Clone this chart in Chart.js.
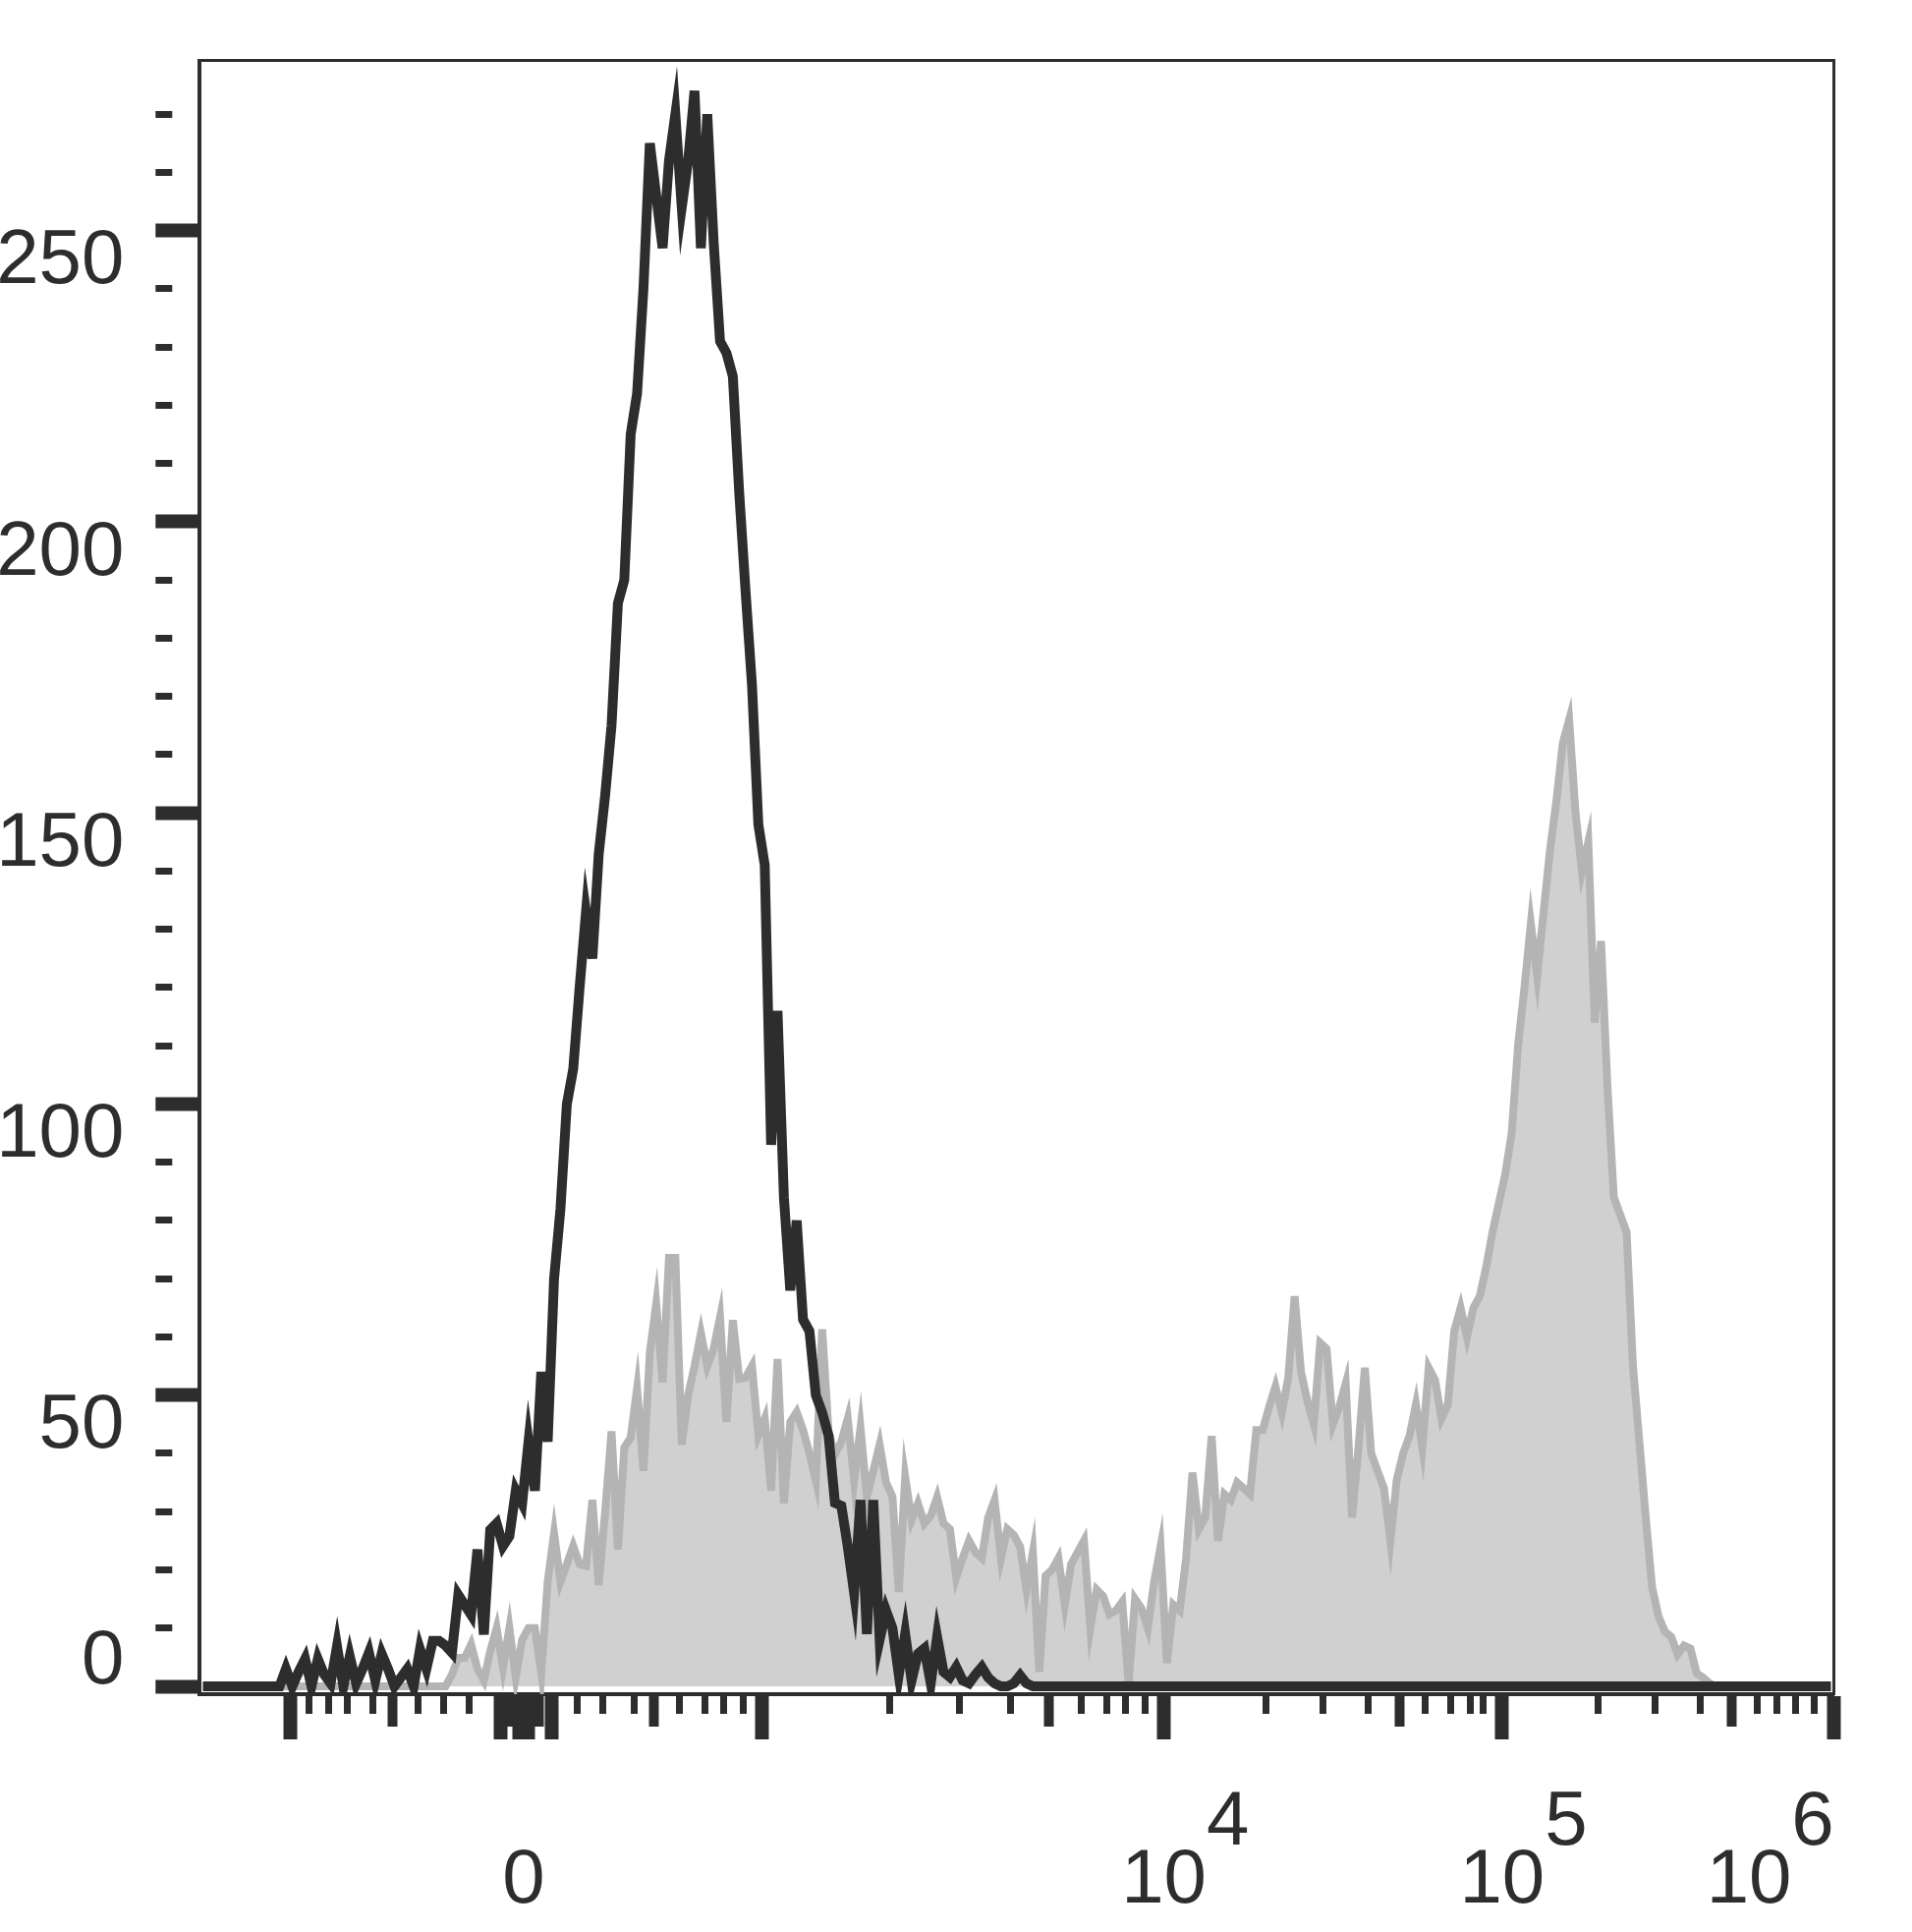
<!DOCTYPE html>
<html>
<head>
<meta charset="utf-8">
<script src="https://cdn.jsdelivr.net/npm/chart.js@4.4.1/dist/chart.umd.min.js"></script>
<style>
    html, body { margin: 0; padding: 0; background: #ffffff; }
    #wrap { width: 1946px; height: 1966px; }
</style>
</head>
<body>
<div id="wrap"><canvas id="histChart" width="1946" height="1966"></canvas></div>
<script>
// display channels 0..1024, 256 bins of 4 channels
const channelMax = 1024;
const binWidth = 4;

// unstained / isotype (black outline)
const controlCounts = [
    0, 0, 0, 0, 0, 0, 0, 0, 0, 0, 0, 0, 0, 3, 0, 2.5,
    4.7, 0, 4.7, 2, 0.5, 6.9, 0, 5.2, 0.5, 3, 5.8, 1, 5.6, 3, 0, 1.5,
    3, 0, 6.4, 3, 7.8, 7.8, 7, 5.8, 15.7, 14, 12.3, 23.5, 8.9, 26.9, 28, 24.1,
    25.8, 33.6, 31.4, 42, 33.6, 54, 42, 70, 82, 100, 106, 120, 133, 125, 143, 153,
    165, 186, 190, 215, 222, 240, 265, 256, 247, 262, 270, 254, 262, 274, 247, 270,
    248, 231, 229, 225, 205, 188, 172, 148, 141, 93, 116, 84, 68, 80, 63, 61,
    50, 47, 43, 31.5, 31, 24, 16, 32, 9, 32, 8, 13, 10, 2, 9, 1,
    5.6, 6.5, 0.5, 8.5, 2.5, 1.6, 3.3, 1, 0.5, 2, 3.3, 1.5, 0.5, 0, 0, 0.5,
    1.9, 0.5, 0, 0, 0, 0, 0, 0, 0, 0, 0, 0, 0, 0, 0, 0,
    0, 0, 0, 0, 0, 0, 0, 0, 0, 0, 0, 0, 0, 0, 0, 0,
    0, 0, 0, 0, 0, 0, 0, 0, 0, 0, 0, 0, 0, 0, 0, 0,
    0, 0, 0, 0, 0, 0, 0, 0, 0, 0, 0, 0, 0, 0, 0, 0,
    0, 0, 0, 0, 0, 0, 0, 0, 0, 0, 0, 0, 0, 0, 0, 0,
    0, 0, 0, 0, 0, 0, 0, 0, 0, 0, 0, 0, 0, 0, 0, 0,
    0, 0, 0, 0, 0, 0, 0, 0, 0, 0, 0, 0, 0, 0, 0, 0,
    0, 0, 0, 0, 0, 0, 0, 0, 0, 0, 0, 0, 0, 0, 0, 0
];

// stained sample (grey filled)
const stainedCounts = [
    0, 0, 0, 0, 0, 0, 0, 0, 0, 0, 0, 0, 0, 0, 0, 0,
    0, 0, 0, 0, 0, 0, 0, 0, 0, 0, 0, 0, 0, 0, 0, 0,
    0, 0, 0, 0, 0, 0, 0, 2, 4.9, 4.9, 7.2, 3, 1, 6, 10, 3.3,
    10, 1.6, 8, 10, 10, 2.2, 18, 26.3, 18, 21, 24.1, 21, 20.7, 32, 17.4, 30,
    43.8, 23.5, 41, 42.7, 51.1, 37, 57.3, 65.7, 52.2, 73.6, 73.6, 41.5, 50, 55, 60.6, 55,
    58, 63.4, 45.4, 62.9, 52.8, 53, 55, 43.2, 46, 33.6, 56.2, 31.4, 45.4, 47.1, 44, 40,
    35.3, 61.3, 43.8, 39.8, 42, 46, 35.3, 44.4, 32.6, 37, 41.5, 35, 32.6, 16.2, 36, 28.6,
    31.4, 28, 29.3, 32.5, 28, 27, 18.7, 22, 25, 23, 22, 29, 32, 22, 27, 26,
    24, 16.6, 23, 2.5, 19, 20, 22, 14, 21, 23, 25, 10, 16.6, 15.5, 12.4, 13,
    14.5, 0.5, 15, 13.4, 10, 18, 24, 4, 14, 13, 22, 36.7, 27, 29, 43, 25,
    33, 32, 35, 34, 33, 44, 44, 48, 51.5, 47, 53, 67, 54, 49, 45, 59,
    58, 45, 48, 52, 29, 41, 54.7, 40, 37, 34, 25, 35.5, 40, 43, 48.4, 41,
    54.7, 52.6, 46, 48.4, 61, 65, 60, 65, 67, 72, 78, 83, 88, 95, 110, 120,
    131, 122, 133, 143.6, 152, 162, 166, 150, 140, 145, 114, 128, 103, 84, 81, 78,
    55, 42, 29, 17, 12, 9.4, 8.5, 5.5, 7, 6.5, 2.2, 1.5, 0.5, 0, 0, 0,
    0, 0, 0, 0, 0, 0, 0, 0, 0, 0, 0, 0, 0, 0, 0, 0
];

// biexponential axis tick positions, in display channels
const majorTicks = [56.8, 188.5, 200.5, 203, 205.5, 220.7, 352.2, 604.1, 816, 1024];
const mediumTicks = [120.6, 194.5, 212.3, 284.3, 532.1, 752, 959.8];
const minorTicks = [68.5, 80.6, 92.5, 108.5, 136.6, 152.6, 168.6, 236.3, 252.3, 272.4,
    300.3, 316.3, 328.4, 340.3, 432.2, 476.1, 508.1, 552.2, 568.2, 580.3, 592.2,
    667.9, 704, 732.1, 768, 784, 796.1, 803.9, 875.9, 911.8, 939.9, 975.8, 987.9,
    999.8, 1011.7];

// labelled x ticks: 0, 10^4, 10^5, 10^6
const xLabelTicks = [203, 604.1, 816, 1024];
const xLabelBase = ['0', '10', '10', '10'];
const xLabelPower = ['', '4', '5', '6'];

const yTicks = [0, 10, 20, 30, 40, 50, 60, 70, 80, 90, 100, 110, 120, 130, 140,
    150, 160, 170, 180, 190, 200, 210, 220, 230, 240, 250, 260, 270];
const yLabelStep = 50;

const ink = '#2d2d2d';
const fontFamily = "'Liberation Sans', Arial, sans-serif";

const binCenters = controlCounts.map((c, i) => i * binWidth + binWidth / 2);
const toPoints = counts => counts.map((c, i) => ({ x: binCenters[i], y: c }));

function tickKind(value) {
    if (majorTicks.includes(value)) return 'major';
    if (mediumTicks.includes(value)) return 'medium';
    return 'minor';
}

function xLabel(value) {
    const k = xLabelTicks.indexOf(value);
    if (k < 0) return '';
    const pow = xLabelPower[k];
    if (!pow) return ['', xLabelBase[k]];
    if (value === channelMax) {
        // last label sits inside the frame, pulled to the left
        return [pow + '  ', xLabelBase[k] + '        '];
    }
    return ['      ' + pow, xLabelBase[k]];
}

const ctx = document.getElementById('histChart').getContext('2d');

new Chart(ctx, {
    type: 'line',
    data: {
        datasets: [{
            label: 'Control',
            data: toPoints(controlCounts),
            borderColor: ink,
            borderWidth: 10,
            fill: false,
            pointRadius: 0,
            tension: 0
        }, {
            label: 'Stained',
            data: toPoints(stainedCounts),
            borderColor: '#b4b4b4',
            backgroundColor: '#d0d0d0',
            borderWidth: 8,
            fill: 'origin',
            pointRadius: 0,
            tension: 0
        }]
    },
    options: {
        responsive: false,
        animation: false,
        devicePixelRatio: 1,
        layout: {
            padding: { top: 61.7, right: 79.3, bottom: 22, left: 0 }
        },
        plugins: {
            legend: { display: false },
            tooltip: { enabled: false }
        },
        scales: {
            x: {
                type: 'linear',
                position: 'bottom',
                min: 0,
                max: channelMax,
                afterBuildTicks: scale => {
                    scale.ticks = majorTicks.concat(mediumTicks, minorTicks)
                        .sort((a, b) => a - b)
                        .map(v => ({ value: v }));
                },
                afterFit: scale => {
                    scale.height = 220;
                    scale.paddingLeft = 0;
                    scale.paddingRight = 0;
                },
                border: { display: true, color: ink, width: 4 },
                grid: {
                    display: true,
                    drawOnChartArea: false,
                    drawTicks: true,
                    tickLength: 48,
                    tickColor: ink,
                    tickWidth: c => {
                        const kind = tickKind(c.tick.value);
                        return kind === 'major' ? 14 : kind === 'medium' ? 10 : 7;
                    },
                    tickBorderDash: c => {
                        const kind = tickKind(c.tick.value);
                        return kind === 'major' ? [44, 300] : kind === 'medium' ? [31, 300] : [18, 300];
                    }
                },
                ticks: {
                    autoSkip: false,
                    maxRotation: 0,
                    minRotation: 0,
                    padding: 54,
                    color: ink,
                    font: { family: fontFamily, size: 78, lineHeight: 0.756 },
                    callback: value => xLabel(value)
                }
            },
            x2: {
                type: 'linear',
                position: 'top',
                min: 0,
                max: channelMax,
                grid: { display: false, drawTicks: false },
                ticks: { display: false },
                border: { display: true, color: ink, width: 3 }
            },
            y: {
                type: 'linear',
                position: 'left',
                min: -1.35,
                max: 279.2,
                afterBuildTicks: scale => {
                    scale.ticks = yTicks.map(v => ({ value: v }));
                },
                afterFit: scale => {
                    scale.width = 203.3;
                    scale.paddingTop = 0;
                    scale.paddingBottom = 0;
                },
                border: { display: true, color: ink, width: 4 },
                grid: {
                    display: true,
                    drawOnChartArea: false,
                    drawTicks: true,
                    tickLength: 45,
                    tickColor: ink,
                    tickWidth: c => (c.tick.value % yLabelStep === 0 ? 14 : 7),
                    tickBorderDash: c => (c.tick.value % yLabelStep === 0 ? [43, 300] : [17, 300])
                },
                ticks: {
                    autoSkip: false,
                    padding: 32,
                    labelOffset: 4,
                    color: ink,
                    font: { family: fontFamily, size: 78, lineHeight: 0.72 },
                    callback: value => {
                        if (value % yLabelStep !== 0) return '';
                        return value === 0 ? ['0', ''] : ['', String(value)];
                    }
                }
            },
            y2: {
                type: 'linear',
                position: 'right',
                min: -1.35,
                max: 279.2,
                grid: { display: false, drawTicks: false },
                ticks: { display: false },
                border: { display: true, color: ink, width: 3 }
            }
        }
    }
});
</script>
</body>
</html>
